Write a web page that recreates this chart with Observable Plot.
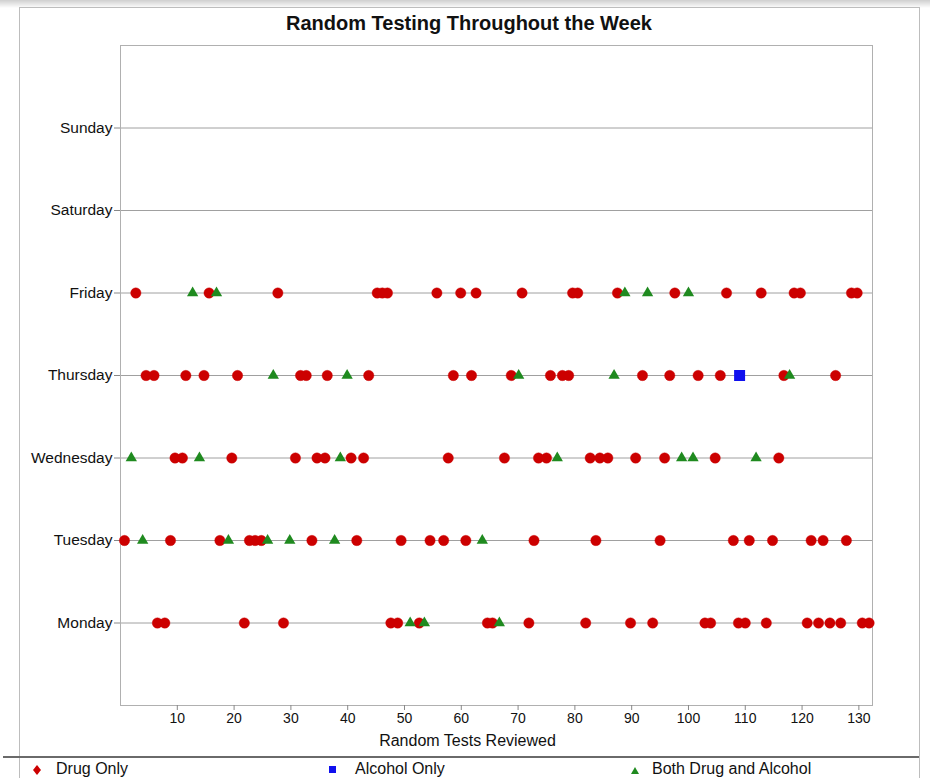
<!DOCTYPE html>
<html>
<head>
<meta charset="utf-8">
<script src="https://cdn.jsdelivr.net/npm/d3@7"></script>
<script src="https://cdn.jsdelivr.net/npm/@observablehq/plot@0.6"></script>
<style>
  html, body { margin: 0; padding: 0; background: #fff; }
  body { width: 930px; height: 778px; overflow: hidden; position: relative; font-family: "Liberation Sans", Arial, sans-serif; }
  #shadow { position: absolute; left: 0; top: 0; width: 930px; height: 8px; background: linear-gradient(#cfcfcf, #fff); }
  #panel { position: absolute; left: 19px; top: 7px; width: 899px; height: 800px; border: 1px solid #bdbdbd; border-bottom: none; }
  #title { position: absolute; left: 0; width: 938px; top: 12px; text-align: center; font-weight: bold; font-size: 20px; color: #111; }
  #chart { position: absolute; left: 0; top: 0; }
  #sep { position: absolute; left: 3px; width: 916px; top: 756px; height: 2px; background: #6a6a6a; }
  .leg { position: absolute; top: 760px; font-size: 16px; color: #111; }
  .sym { position: absolute; top: 764px; }
</style>
</head>
<body>
<div id="shadow"></div>
<div id="panel"></div>
<div id="chart"></div>
<div id="title">Random Testing Throughout the Week</div>
<div id="sep"></div>
<svg class="sym" style="left:31px" width="12" height="12"><path d="M6,1 L10,6 L6,11 L2,6 Z" fill="#cc0000"/></svg>
<div class="leg" style="left:56px">Drug Only</div>
<svg class="sym" style="left:327px" width="12" height="12"><rect x="2" y="2" width="7" height="7" fill="#1010ee"/></svg>
<div class="leg" style="left:355px">Alcohol Only</div>
<svg class="sym" style="left:629px" width="12" height="12"><path d="M6,3 L10,10 L2,10 Z" fill="#1f8a1f"/></svg>
<div class="leg" style="left:652px">Both Drug and Alcohol</div>
<script>
// Days (y positions 1..7 from bottom)
const days = ["Monday", "Tuesday", "Wednesday", "Thursday", "Friday", "Saturday", "Sunday"];
const xTicks = [10, 20, 30, 40, 50, 60, 70, 80, 90, 100, 110, 120, 130];
const typeNames = ["Drug Only", "Alcohol Only", "Both Drug and Alcohol"];

// Test indices per day and result type
const mondayDrug = [6.5, 7.8, 21.8, 28.7, 47.6, 48.8, 52.6, 64.6, 65.5, 71.9, 81.9, 89.8, 93.7, 102.9, 103.9, 108.8, 110, 113.7, 120.9, 122.9, 124.9, 126.8, 130.6, 131.8];
const mondayBoth = [51, 53.5, 66.7];
const tuesdayDrug = [0.7, 8.8, 17.5, 22.7, 23.7, 24.8, 33.7, 41.6, 49.4, 54.5, 56.9, 60.8, 72.8, 83.7, 95, 107.9, 110.7, 114.8, 121.6, 123.7, 127.8];
const tuesdayBoth = [3.9, 19, 25.9, 29.8, 37.7, 63.7];
const wednesdayDrug = [9.6, 10.9, 19.6, 30.8, 34.6, 36, 40.6, 42.8, 57.7, 67.6, 73.6, 75, 82.7, 84.4, 85.8, 90.7, 95.8, 104.7, 115.9];
const wednesdayBoth = [1.9, 13.9, 38.7, 76.9, 98.8, 100.8, 111.9];
const thursdayDrug = [4.5, 5.9, 11.5, 14.7, 20.6, 31.7, 32.7, 36.4, 43.7, 58.6, 61.8, 68.8, 75.7, 77.8, 78.9, 91.9, 96.7, 101.7, 105.6, 116.8, 125.9];
const thursdayBoth = [26.9, 39.9, 70.1, 86.9, 117.8];
const thursdayAlcohol = [109];
const fridayDrug = [2.7, 15.6, 27.7, 45.2, 46.1, 47, 55.7, 59.9, 62.6, 70.7, 79.6, 80.5, 87.5, 97.6, 106.7, 112.8, 118.6, 119.7, 128.7, 129.7];
const fridayBoth = [12.7, 16.9, 88.8, 92.8, 100];

const series = [
  ["Monday", "Drug Only", mondayDrug], ["Monday", "Both Drug and Alcohol", mondayBoth],
  ["Tuesday", "Drug Only", tuesdayDrug], ["Tuesday", "Both Drug and Alcohol", tuesdayBoth],
  ["Wednesday", "Drug Only", wednesdayDrug], ["Wednesday", "Both Drug and Alcohol", wednesdayBoth],
  ["Thursday", "Drug Only", thursdayDrug], ["Thursday", "Both Drug and Alcohol", thursdayBoth],
  ["Thursday", "Alcohol Only", thursdayAlcohol],
  ["Friday", "Drug Only", fridayDrug], ["Friday", "Both Drug and Alcohol", fridayBoth]
];
const rows = series.flatMap(([day, type, xs]) => xs.map(x => ({x, y: days.indexOf(day) + 1, day, type})));
const drug = rows.filter(d => d.type === "Drug Only");
const both = rows.filter(d => d.type === "Both Drug and Alcohol");
const alc = rows.filter(d => d.type === "Alcohol Only");

const chart = Plot.plot({
  width: 930,
  height: 756,
  marginLeft: 120,
  marginRight: 58,
  marginTop: 45,
  marginBottom: 51,
  style: {fontFamily: "'Liberation Sans', Arial, sans-serif", fontSize: "12px", color: "#111", background: "transparent"},
  x: {domain: [0, 132.4], ticks: xTicks, tickSize: 5, tickPadding: 4, label: null},
  y: {domain: [0, 8], ticks: days.map((d, i) => i + 1), tickFormat: v => days[v - 1], tickSize: 6, tickPadding: 2, label: null},
  marks: [
    Plot.ruleY(days.map((d, i) => i + 1), {stroke: "#a0a0a0", strokeOpacity: 1}),
    Plot.frame({stroke: "#b0b0b0"}),
    Plot.axisX({ticks: xTicks, tickSize: 5, tickPadding: 3, stroke: "#888", fontSize: 14}),
    Plot.axisY({ticks: days.map((d, i) => i + 1), tickFormat: v => days[v - 1], tickSize: 6, tickPadding: 2, stroke: "#888", fontSize: 15.5}),
    Plot.text(["Random Tests Reviewed"], {frameAnchor: "bottom", dx: -29, dy: 40, fontSize: 16, fill: "#111"}),
    Plot.dot(drug, {x: "x", y: "y", symbol: "circle", r: 5.2, fill: "#cc0000", stroke: "#cc0000", strokeWidth: 0.4}),
    Plot.dot(both, {x: "x", y: "y", symbol: "triangle", r: 4.2, fill: "#1f8a1f"}),
    Plot.dot(alc, {x: "x", y: "y", symbol: "square", r: 6.2, fill: "#1010ee"})
  ]
});
document.getElementById("chart").appendChild(chart);
</script>
</body>
</html>
